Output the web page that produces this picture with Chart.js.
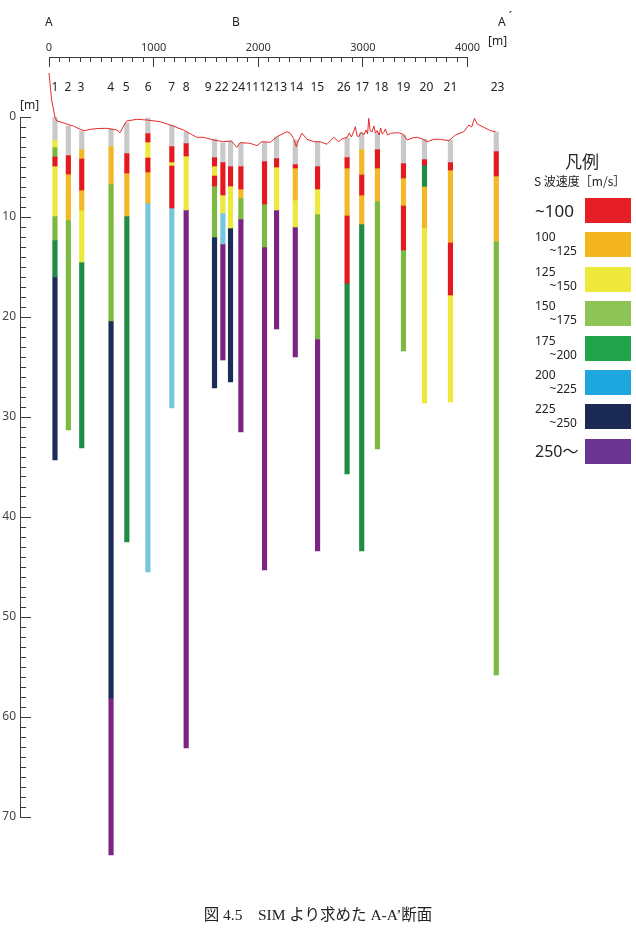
<!DOCTYPE html>
<html><head><meta charset="utf-8">
<script src="https://cdn.jsdelivr.net/npm/chart.js@4.4.1/dist/chart.umd.min.js"></script>
<style>
html,body{margin:0;padding:0;background:#fff;}
#page{position:relative;width:636px;height:950px;overflow:hidden;font-family:'Noto Sans','Noto Sans CJK JP',sans-serif;color:#222;}
canvas{position:absolute;left:0;top:0;}
.t{position:absolute;white-space:nowrap;line-height:1;}
</style></head>
<body><div id="page">
<canvas id="main" width="636" height="950"></canvas>
<canvas id="ruler" width="636" height="70"></canvas>
<div class="t" style="left:45px;top:16px;font-size:12px">A</div>
<div class="t" style="left:232px;top:16px;font-size:12px">B</div>
<div class="t" style="left:498px;top:16px;font-size:12px">A<span style="position:relative;top:-5px;left:3px">´</span></div>
<div class="t" style="left:488px;top:35px;font-size:12px">[m]</div>
<div class="t" style="left:20px;top:99px;font-size:12px">[m]</div>
<div class="t" style="left:0;width:636px;text-align:center;top:907px;font-size:15.5px;font-family:'Liberation Serif','Noto Sans CJK JP',serif">図 4.5　SIM より求めた A-A’断面</div>
<div id="legend"></div>
</div>
<script>
// ---- data ----
const boreholes = ['1','2','3','4','5','6','7','8','9','22','24','11','12','13','14','15','26','17','18','19','20','21','23'];
const distance  = [57,185,313,593,744,945,1174,1311,1582,1662,1735,1834,2060,2175,2354,2567,2849,2989,3139,3388,3589,3837,4275];
const labelAt   = [57,182,306,589,737,947,1172,1311,1522,1651,1809,1943,2077,2211,2364,2565,2818,2995,3177,3388,3608,3837,4287];
// layer boundary depths [m] and class of each layer (0 = unmeasured, 1..8 = velocity class)
const layerDepths = [
  [0,2.3,3.0,4.0,4.9,9.9,12.3,16.0,34.3],
  [0.9,3.8,5.7,10.3,31.3],
  [1.4,3.2,4.2,7.3,9.3,14.5,33.1],
  [1.2,2.9,6.7,20.4,58.1,73.8],
  [0.6,3.6,5.6,9.9,42.5],
  [0.1,1.6,2.5,4.1,5.5,8.6,45.5],
  [0.8,2.9,4.5,4.9,9.1,29.1],
  [1.5,2.6,3.9,9.3,63.1],
  [2.2,4.0,4.9,5.9,6.9,12.0,27.1],
  [2.6,4.5,7.8,9.6,12.7,24.3],
  [2.4,4.9,6.9,11.1,26.5],
  [2.6,4.9,7.2,8.1,10.2,31.5],
  [2.5,4.4,8.7,13.0,45.3],
  [2.0,4.1,5.0,9.3,21.2],
  [2.3,4.7,5.1,8.3,11.0,24.0],
  [2.5,4.9,7.2,9.7,22.2,43.4],
  [2.1,4.0,5.1,9.9,16.6,35.7],
  [1.6,3.2,5.8,7.8,10.7,43.4],
  [1.6,3.2,5.1,8.4,33.2],
  [1.8,4.6,6.1,8.9,13.3,23.4],
  [2.2,4.2,4.8,7.0,11.1,28.6],
  [2.3,4.5,5.3,12.6,17.8,28.5],
  [1.5,3.4,5.9,12.4,55.8]
];
const layerClasses = [
  [0,3,4,1,3,4,5,7],
  [0,1,2,4],
  [0,2,1,2,3,5],
  [0,2,4,7,8],
  [0,1,2,5],
  [0,1,3,1,2,6],
  [0,1,3,1,6],
  [0,1,3,8],
  [0,1,3,1,4,7],
  [0,1,3,6,8],
  [0,1,3,7],
  [0,1,2,4,8],
  [0,1,4,8],
  [0,1,3,8],
  [0,1,2,3,8],
  [0,1,3,4,8],
  [0,1,2,1,5],
  [0,2,1,2,5],
  [0,1,2,4],
  [0,1,2,1,4],
  [0,1,5,2,3],
  [0,1,2,1,3],
  [0,1,2,4]
];
const terrainDist = [0,25,57,74,105,169,233,297,344,392,470,552,648,679,727,744,839,935,1062,1158,1285,1413,1477,1572,1668,1740,1796,1828,1923,1988,2035,2115,2179,2275,2306,2338,2364,2386,2418,2466,2529,2593,2657,2721,2768,2800,2849,2870,2890,2910,2928,2945,2960,2985,3008,3030,3045,3056,3070,3088,3105,3120,3136,3155,3170,3185,3199,3215,3235,3263,3300,3343,3385,3423,3470,3519,3570,3614,3678,3742,3821,3885,3965,4013,4040,4067,4093,4156,4220,4268];
const terrainDepth = [-4.4,-1.7,0.0,0.4,0.47,0.7,0.9,1.23,1.37,1.23,1.15,1.13,1.3,1.57,0.63,0.4,0.23,0.3,0.47,0.8,1.3,2.03,2.03,2.3,2.47,2.4,3.03,2.57,2.63,2.87,2.47,2.53,1.97,1.47,1.63,2.13,2.97,2.3,1.63,2.23,2.47,2.47,2.73,2.03,2.47,2.2,2.03,1.6,2.0,1.5,0.97,1.9,1.97,1.5,1.8,1.3,1.7,0.13,1.4,1.47,0.9,1.6,1.37,1.8,1.1,1.7,1.57,1.2,1.8,1.63,1.6,1.57,1.73,2.3,2.1,2.03,2.2,2.47,2.23,2.23,2.37,1.8,1.47,0.8,1.0,0.13,0.7,1.03,1.37,1.47];
const depthTicks = [0,10,20,30,40,50,60,70];
const distTicks = [0,1000,2000,3000,4000];
const classNames = ['未測定','~100','100~125','125~150','150~175','175~200','200~225','225~250','250〜'];
const legendLabels = [['~100'],['100','~125'],['125','~150'],['150','~175'],['175','~200'],['200','~225'],['225','~250'],['250〜']];

// ---- styles ----
const barColors = ['#c9c9c9','#e3191f','#f3b826','#ede83c','#7cb940','#1f8b45','#74c8da','#1c2c58','#7a2483'];
const legendColors = ['#e61e25','#f4b61f','#efe93b','#8ec355','#21a34c','#1ea6de','#1a2a52','#6c3491'];
const AREA = {left:20, right:530, top:117, bottom:817};
const RULER = {zero:49, end:467.5};
const mPerPx = 4000 / (RULER.end - RULER.zero);
const xMin = -(RULER.zero - AREA.left) * mPerPx;
const xMax = xMin + (AREA.right - AREA.left) * mPerPx;
const axisColor = '#3a3a3a';
const DEPTH_MINOR_STEP = 1, DIST_MINOR_STEP = 100;
Chart.defaults.font.family = "'Noto Sans', sans-serif";
Chart.defaults.color = '#333';

function minorTicks(lo, hi, step) {
  const t = [];
  for (let k = 0; lo + k * step <= hi; k++) t.push({value: lo + k * step});
  return t;
}
// minor ticks: keep only the part of the long tick next to the axis line
function dashFor(full, minor, majors) {
  return {
    tickBorderDash: ctx => (ctx.tick && !majors.includes(ctx.tick.value)) ? [minor, full - minor] : [],
    tickBorderDashOffset: ctx => (ctx.tick && !majors.includes(ctx.tick.value)) ? minor : 0
  };
}

// ---- datasets ----
const barSets = classNames.map((name, c) => ({
  type: 'bar', label: name, data: [], backgroundColor: barColors[c],
  barThickness: 4.5, grouped: false, clip: false, borderWidth: 0, order: 1
}));
boreholes.forEach((b, i) => {
  const d = layerDepths[i], cl = layerClasses[i];
  for (let j = 0; j < cl.length; j++) {
    barSets[cl[j]].data.push({x: distance[i], y: [d[j], d[j+1]]});
  }
});
const n = Math.min(terrainDist.length, terrainDepth.length);
const terrain = [];
for (let i = 0; i < n; i++) terrain.push({x: terrainDist[i], y: terrainDepth[i]});

new Chart(document.getElementById('main'), {
  type: 'bar',
  data: { datasets: [
    { type: 'line', label: '地表', data: terrain, borderColor: '#e52a2a', borderWidth: 1,
      pointRadius: 0, tension: 0, clip: false, order: 0 },
    ...barSets
  ]},
  options: {
    responsive: false, animation: false,
    layout: { padding: { left: 0, top: 0, right: 636 - AREA.right, bottom: 950 - AREA.bottom } },
    plugins: { legend: { display: false }, tooltip: { enabled: false } },
    scales: {
      x: { type: 'linear', display: false, min: xMin, max: xMax, offset: false, grid: {offset: false} },
      xl: { type: 'linear', position: 'top', min: xMin, max: xMax, offset: false,
        afterFit: s => { s.height = AREA.top; },
        afterBuildTicks: s => { s.ticks = labelAt.map(v => ({value: v})); },
        ticks: { autoSkip: false, maxRotation: 0, padding: 22, font: {size: 12}, color: '#222',
          callback: (v, i) => boreholes[i] },
        grid: { display: false, drawTicks: false, offset: false }, border: { display: false } },
      y: { type: 'linear', position: 'left', reverse: true, min: 0, max: 70,
        afterFit: s => { s.width = AREA.left; },
        afterBuildTicks: s => { s.ticks = minorTicks(0, 70, DEPTH_MINOR_STEP); },
        ticks: { autoSkip: false, padding: 15, font: {size: 12}, color: '#444',
          callback: v => depthTicks.includes(v) ? String(v) : '' },
        grid: Object.assign({ drawOnChartArea: false, tickLength: -11, color: axisColor, lineWidth: 1 },
          dashFor(11, 6, depthTicks)),
        border: { display: true, color: axisColor, width: 1 } }
    }
  }
});

new Chart(document.getElementById('ruler'), {
  type: 'scatter',
  data: { datasets: [] },
  options: {
    responsive: false, animation: false,
    layout: { padding: { left: RULER.zero, right: 636 - RULER.end, top: 0, bottom: 8 } },
    plugins: { legend: { display: false }, tooltip: { enabled: false } },
    scales: {
      x: { type: 'linear', position: 'top', min: 0, max: 4000, offset: false,
        afterFit: s => { s.height = 57; },
        afterBuildTicks: s => { s.ticks = minorTicks(0, 4000, DIST_MINOR_STEP); },
        ticks: { autoSkip: false, maxRotation: 0, padding: 13, font: {size: 11}, color: '#333',
          callback: v => distTicks.includes(v) ? String(v) : '' },
        grid: Object.assign({ drawOnChartArea: false, drawTicks: true, tickLength: -10, color: axisColor, lineWidth: 1 },
          dashFor(10, 5, distTicks)),
        border: { display: true, color: axisColor, width: 1 } },
      y: { display: false, min: 0, max: 1 }
    }
  }
});

// ---- legend (HTML text) ----
const lg = document.getElementById('legend');
function addText(txt, style) {
  const d = document.createElement('div'); d.className = 't'; d.textContent = txt;
  Object.assign(d.style, style); lg.appendChild(d); return d;
}
addText('凡例', {left: '565px', top: '152px', fontSize: '17px', fontFamily: "'Noto Sans CJK JP',sans-serif"});
addText('S 波速度［m/s］', {left: '534px', top: '175px', fontSize: '12px', fontFamily: "'Noto Sans CJK JP',sans-serif"});
legendLabels.forEach((lab, i) => {
  const top = 198 + i * 34.4;
  const sw = document.createElement('div');
  Object.assign(sw.style, {position: 'absolute', left: '585px', top: top + 'px', width: '46px', height: '25px', background: legendColors[i]});
  lg.appendChild(sw);
  if (lab.length === 1) {
    addText(lab[0], {left: '535px', top: (top + 4) + 'px', fontSize: i === 0 ? '17px' : '16px'});
  } else {
    addText(lab[0], {left: '535px', top: (top - 1) + 'px', fontSize: '12px'});
    addText(lab[1], {left: '535px', width: '42px', textAlign: 'right', top: (top + 13) + 'px', fontSize: '12px'});
  }
});
</script>
</body></html>
